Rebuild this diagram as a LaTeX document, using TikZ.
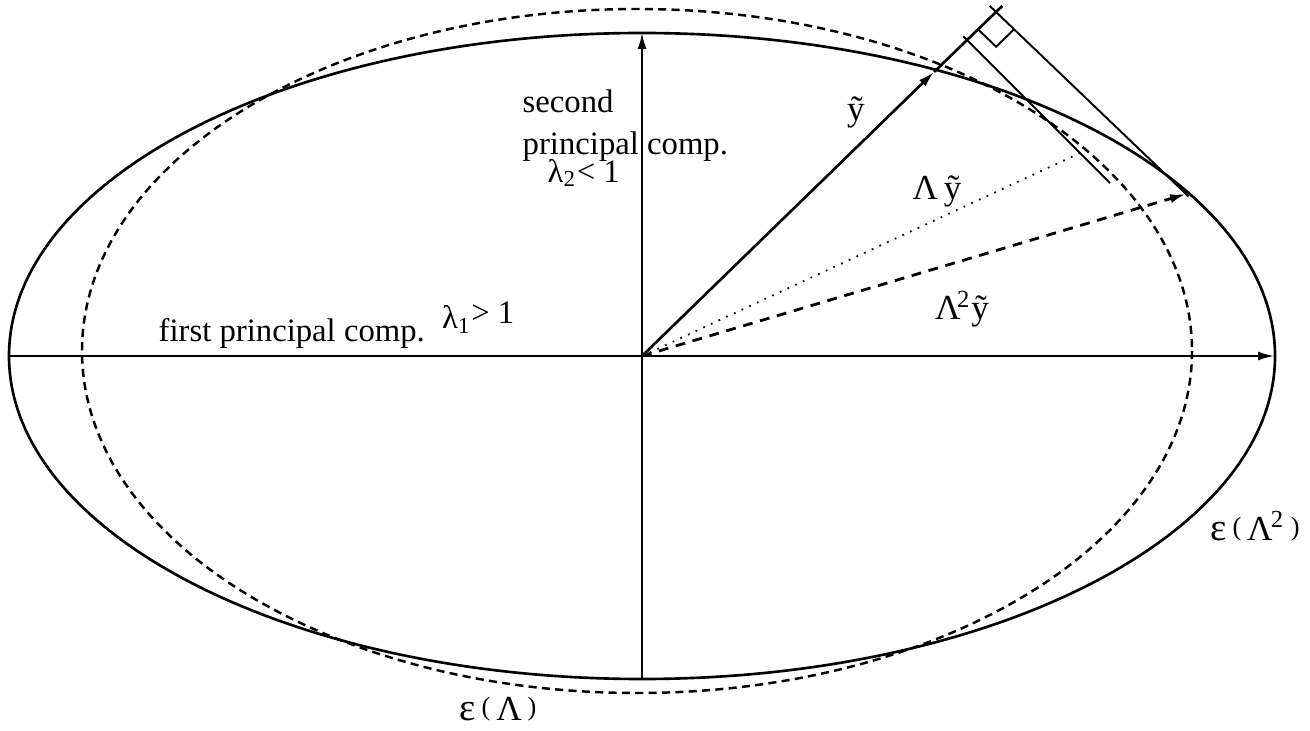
\documentclass[tikz,border=0pt]{standalone}
\usepackage{fontspec}
\setmainfont{Liberation Serif}
\usetikzlibrary{positioning,calc,arrows.meta}

% epsilon of a matrix, with the small raised parentheses
\newcommand{\epsof}[1]{{\fontsize{11}{13}\selectfont ε}\,\raisebox{1.2pt}{\fontsize{7.5}{8}\selectfont(}\,#1\,\raisebox{1.2pt}{\fontsize{7.5}{8}\selectfont)}}

\begin{document}
\begin{tikzpicture}[
    x=0.01cm, y=-0.01cm,
    ell/.style={line width=0.75pt},
    dashell/.style={line width=0.7pt, dash pattern=on 2.3pt off 1.5pt},
    axis/.style={line width=0.55pt},
    dotvec/.style={line width=0.5pt, dash pattern=on 0.5pt off 1.9pt},
    dashvec/.style={line width=0.8pt, dash pattern=on 2.8pt off 2.2pt},
    vec/.style={-{Latex[length=1.6mm,width=0.9mm]}},
    lbl/.style={font=\fontsize{9.3}{11}\selectfont, inner sep=0pt},
    sym/.style={font=\fontsize{10}{12}\selectfont, inner sep=0pt, anchor=base}
]
\useasboundingbox (0,0) rectangle (1310,731);

% Points
\coordinate (O) at (642,356);
\coordinate (xl) at (9,356);
\coordinate (xr) at (1274,356);
\coordinate (yb) at (642,679);
\coordinate (yt) at (642,33);
\coordinate (Y) at (934,72);
\coordinate (C) at (996,12);
\coordinate (T) at (967,40);
\coordinate (L) at (1080,153);
\coordinate (E1) at (1110,183);
\coordinate (M) at (1186,194);

% Ellipses
\draw[ell] (O) ellipse [x radius=633, y radius=323];
\draw[dashell] (637,351) ellipse [x radius=555, y radius=342];

% Principal axes
\draw[axis, vec] (xl) -- (xr);
\draw[axis, vec] (yb) -- (yt);

% Vectors
\draw[ell, vec] (O) -- (Y);
\draw[ell, shorten >=-2.5pt] (Y) -- (C);
\draw[dotvec] (O) -- (L);
\draw[dashvec, vec] (O) -- (M);

% Tangents + right angle
\draw[axis, shorten <=-1.5pt] (T) -- (E1);
\draw[axis, shorten <=-2.5pt, shorten >=-1pt] (C) -- (M);
\coordinate (ra1) at ($(C)!0.25cm!(O)$);
\coordinate (ra2) at ($(C)!0.25cm!(M)$);
\draw[axis] (ra1) -- ($(ra1)+(ra2)-(C)$) -- (ra2);

% Labels
\node[lbl, anchor=base west] (first) at (158,342) {first principal comp.};
\node[lbl, anchor=base west] (lam1) at ($(first.base east)+(16,-13)$) {λ\textsubscript{1}\raisebox{1.6pt}{> 1}};
\node[lbl, anchor=base west] (sec) at (522,113) {second};
\node[lbl, below=0.41cm of sec.base west, anchor=base west] (princ) {principal comp.};
\node[lbl, anchor=base west] (lam2) at ($(princ.base west)+(25,28)$) {λ\textsubscript{2}< 1};

\node[sym] (ylab) at (856,121) {ỹ};
\node[sym] (Lylab) at (937,200) {Λ\,ỹ};
\node[sym] (L2ylab) at (962,320) {Λ\kern-0.1em\textsuperscript{2}ỹ};
\node[sym] (epsL2) at (1255,540) {\epsof{Λ\kern-0.05em\textsuperscript{2}}};
\node[sym] (epsL) at (498,720) {\epsof{Λ}};

\end{tikzpicture}
\end{document}
